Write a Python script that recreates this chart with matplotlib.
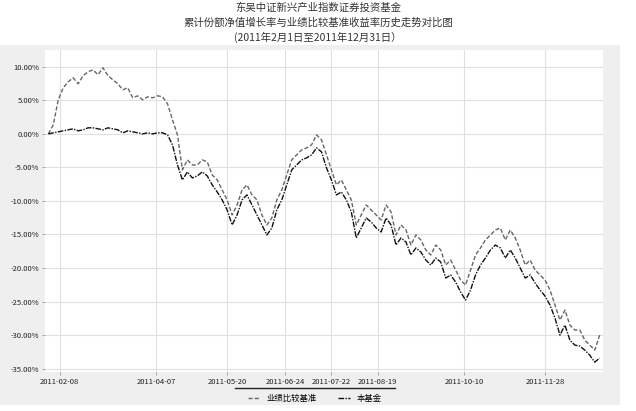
import matplotlib
matplotlib.use("Agg")
import matplotlib.pyplot as plt
import matplotlib.dates as mdates
import pandas as pd
from matplotlib.patches import Rectangle
from matplotlib.lines import Line2D

plt.rcParams['font.family'] = ['Noto Sans CJK SC', 'DejaVu Sans']

title_lines = ["东吴中证新兴产业指数证券投资基金",
               "累计份额净值增长率与业绩比较基准收益率历史走势对比图",
               "(2011年2月1日至2011年12月31日）"]

benchmark_pct = [0, 1.34, 5.07, 6.87, 7.76, 8.36, 7.46, 8.66, 9.25, 9.55, 8.81, 9.85, 8.66, 8.06,
                 7.46, 6.57, 6.87, 5.37, 5.67, 5.07, 5.52, 5.37, 5.67, 5.52, 4.48, 2.09, -0.15,
                 -5.37, -3.88, -4.63, -4.63, -3.88, -4.18, -6.12, -6.87, -8.36, -9.85, -12.09,
                 -10.60, -8.36, -7.61, -9.10, -9.85, -12.09, -13.58, -12.54, -9.85, -8.36, -6.12,
                 -3.88, -3.13, -2.39, -2.09, -1.64, -0.15, -0.90, -3.13, -5.37, -7.61, -6.87,
                 -8.36, -9.85, -13.58, -12.09, -10.60, -11.34, -12.09, -12.84, -10.60, -11.64,
                 -15.07, -13.58, -14.33, -16.57, -15.07, -15.82, -17.31, -18.06, -16.57, -17.31,
                 -19.55, -18.81, -20.30, -21.79, -22.54, -20.30, -18.06, -17.01, -15.82, -15.07,
                 -14.33, -14.03, -15.82, -14.33, -15.52, -17.31, -19.55, -18.81, -20.30, -21.04,
                 -21.79, -23.28, -25.52, -27.76, -26.27, -28.51, -29.25, -29.25, -30.75, -31.49,
                 -32.24, -30.00]

fund_pct = [0, 0.15, 0.30, 0.45, 0.60, 0.75, 0.45, 0.60, 0.90, 0.90, 0.75, 0.60, 0.90, 0.75,
            0.60, 0.15, 0.45, 0.30, 0.15, 0, 0.15, 0, 0.15, 0.15, -0.15, -1.64, -4.63,
            -6.87, -5.67, -6.57, -6.27, -5.67, -6.27, -7.61, -8.66, -9.85, -11.34, -13.58,
            -12.09, -9.85, -9.10, -10.60, -12.09, -13.58, -15.07, -14.03, -11.34, -9.85, -7.61,
            -5.37, -4.63, -3.88, -3.58, -3.13, -2.09, -2.69, -5.07, -6.87, -9.10, -8.66,
            -9.85, -11.64, -15.52, -14.03, -12.54, -13.13, -14.03, -14.63, -12.54, -13.58,
            -16.57, -15.52, -16.12, -18.06, -17.01, -17.61, -18.81, -19.55, -18.51, -19.10,
            -21.49, -21.04, -22.09, -23.58, -24.78, -23.28, -21.04, -19.55, -18.51, -17.31,
            -16.57, -17.01, -18.51, -17.31, -18.51, -20.00, -21.49, -21.04, -22.24, -23.28,
            -24.18, -25.52, -27.46, -30.00, -28.51, -30.75, -31.49, -31.64, -32.24, -32.99,
            -34.03, -33.43]

dates = pd.date_range("2011-02-01", "2011-12-31", periods=len(fund_pct))

y_ticks = [10, 5, 0, -5, -10, -15, -20, -25, -30, -35]
y_labels = ["10.00%", "5.00%", "0.00%", "-5.00%", "-10.00%", "-15.00%",
            "-20.00%", "-25.00%", "-30.00%", "-35.00%"]
x_tick_labels = ["2011-02-08", "2011-04-07", "2011-05-20", "2011-06-24",
                 "2011-07-22", "2011-08-19", "2011-10-10", "2011-11-28"]
series_names = ["业绩比较基准", "本基金"]

fig = plt.figure(figsize=(6.36, 4.11), dpi=100)
fig.patch.set_facecolor("white")
# gray chart area
fig.add_artist(Rectangle((0, 0.015), 620/636, (411-45)/411 - 0.015, transform=fig.transFigure,
                         facecolor="#efefef", edgecolor="none", zorder=-10))

ax = fig.add_axes([45/636, 1-372/411, (603-45)/636, (372-50)/411])
ax.set_facecolor("white")

ax.plot(dates, benchmark_pct, color="#666666", lw=1.0, linestyle=(0, (3, 1.5)), label=series_names[0])
ax.plot(dates, fund_pct, color="#111111", lw=1.0, linestyle=(0, (4, 1, 1, 1)), label=series_names[1])

ax.set_ylim(-35.5, 12.5)
ax.set_xlim(pd.Timestamp("2011-01-30"), pd.Timestamp("2012-01-02"))
ax.set_yticks(y_ticks)
ax.set_yticklabels(y_labels, fontsize=5.5, color="#222222")
ax.set_xticks(pd.to_datetime(x_tick_labels))
ax.set_xticklabels(x_tick_labels, fontsize=5.5, color="#222222")
ax.tick_params(length=2, width=0.5, pad=2, colors="#888888", labelcolor="#222222")
ax.grid(True, color="#e0e0e0", lw=0.8)
ax.set_axisbelow(True)
for s in ax.spines.values():
    s.set_visible(False)

leg = fig.legend(handles=[Line2D([], [], color="#666666", lw=1.0, linestyle=(0, (3, 1.5))),
                          Line2D([], [], color="#111111", lw=1.0, linestyle=(0, (4, 1, 1, 1)))],
                 labels=series_names, loc="center", bbox_to_anchor=(315/636, 1-398/411),
                 ncol=2, fontsize=6, frameon=False, handlelength=1.5, columnspacing=2.5,
                 borderpad=0.3)
fig.add_artist(Line2D([235/636, 395/636], [1-388/411, 1-388/411], transform=fig.transFigure,
                      color="#222222", lw=1.0))

for i, t in enumerate(title_lines):
    fig.text(318/636, 1-(8+14.5*i)/411, t, ha="center", va="center", fontsize=7.5, color="#333333")

fig.savefig("out.png", dpi=100)
